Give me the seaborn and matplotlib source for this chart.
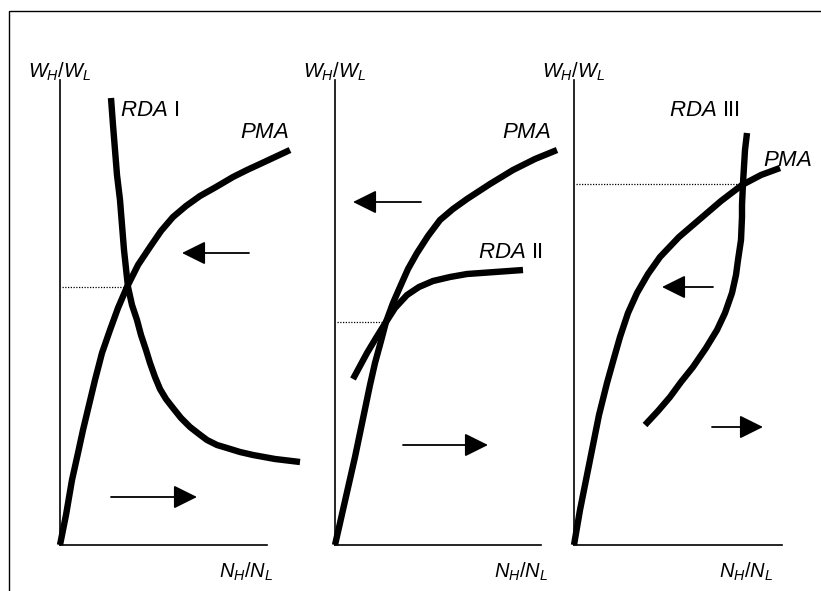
import matplotlib
matplotlib.use("Agg")
import matplotlib.pyplot as plt
from matplotlib.lines import Line2D
import seaborn as sns

# panel 1: PMA and RDA I
pma1_x = [0, 6, 12, 18, 23, 29, 35, 42, 50, 58, 67, 78, 90, 101, 113, 126, 140, 156, 173, 187, 200, 215, 230]
pma1_y = [0, 30, 65, 92, 115, 140, 165, 192, 215, 237, 258, 280, 298, 314, 328, 339, 349, 358, 368, 375, 381, 388, 395]
rda1_x = [51, 53, 55, 57, 60, 62, 64, 68, 72, 77, 81, 86, 90, 95, 100, 106, 113, 121, 130, 139, 147, 157, 167, 180, 193, 215, 240]
rda1_y = [447, 420, 395, 370, 345, 320, 295, 258, 240, 225, 210, 195, 182, 168, 156, 146, 137, 127, 118, 111, 105, 100, 97, 93, 90, 86, 83]
eq1 = (258, 65)

# panel 2: PMA and RDA II
pma2_x = [0, 5, 10, 15, 20, 25, 30, 35, 40, 46, 51, 58, 65, 73, 82, 93, 105, 118, 132, 155, 178, 200, 222]
pma2_y = [0, 22, 44, 66, 88, 112, 136, 160, 182, 204, 223, 242, 258, 276, 292, 309, 325, 336, 346, 361, 375, 386, 395]
rda2_x = [18, 25, 32, 41, 51, 60, 72, 84, 98, 115, 132, 160, 188]
rda2_y = [166, 179, 192, 207, 223, 237, 250, 258, 264, 268, 271, 273, 275]
eq2 = (223, 48)

# panel 3: PMA and RDA III
pma3_x = [0, 6, 11, 18, 25, 33, 40, 46, 54, 63, 74, 86, 105, 126, 147, 168, 187, 206]
pma3_y = [0, 35, 60, 95, 130, 162, 187, 208, 232, 252, 271, 288, 308, 326, 344, 360, 370, 377]
rda3_x = [173, 171, 169, 168, 168, 167, 164, 162, 158, 151, 143, 132, 119, 107, 96, 84, 71]
rda3_y = [412, 395, 362, 340, 328, 305, 285, 270, 252, 232, 215, 197, 178, 163, 148, 134, 120]
eq3 = (361, 166)

# arrows (tail -> tip)
arrows1 = [((189, 292), (122, 292)), ((51, 48), (137, 48))]
arrows2 = [((86, 343), (18, 343)), ((68, 100), (153, 100))]
arrows3 = [((139, 258), (88, 258)), ((138, 118), (189, 118))]

panels = [
    dict(left=60, xlen=207, pma=(pma1_x, pma1_y), rda=(rda1_x, rda1_y), eq=eq1,
         arrows=arrows1, rda_lab=(r"$RDA$ I", 60, 435), pma_lab=(180, 412), nlab_x=186),
    dict(left=335, xlen=206, pma=(pma2_x, pma2_y), rda=(rda2_x, rda2_y), eq=eq2,
         arrows=arrows2, rda_lab=(r"$RDA$ II", 143, 292), pma_lab=(167, 412), nlab_x=186),
    dict(left=574, xlen=208, pma=(pma3_x, pma3_y), rda=(rda3_x, rda3_y), eq=eq3,
         arrows=arrows3, rda_lab=(r"$RDA$ III", 95, 435), pma_lab=(189, 385), nlab_x=172),
]

sns.set_style("white")
plt.rcParams["font.family"] = ["Liberation Sans", "DejaVu Sans"]
plt.rcParams["text.color"] = "black"
plt.rcParams["mathtext.fontset"] = "custom"
plt.rcParams["mathtext.it"] = "Liberation Sans:italic"
plt.rcParams["mathtext.rm"] = "Liberation Sans"

W, H = 821, 591
fig = plt.figure(figsize=(W / 100, H / 100), dpi=100)
fig.patch.set_facecolor("white")

# frame (top and left only)
fig.add_artist(Line2D([10 / W, 1], [1 - 11 / H, 1 - 11 / H], transform=fig.transFigure, color="black", lw=1))
fig.add_artist(Line2D([9 / W, 9 / W], [0, 1 - 11 / H], transform=fig.transFigure, color="black", lw=1))

ylen = 465
for p in panels:
    ax = fig.add_axes([p["left"] / W, (H - 545) / H, p["xlen"] / W, ylen / H])
    ax.set_xlim(0, p["xlen"])
    ax.set_ylim(0, ylen)
    ax.patch.set_alpha(0)
    for s in ["top", "right"]:
        ax.spines[s].set_visible(False)
    for s in ["left", "bottom"]:
        ax.spines[s].set_linewidth(1.2)
        ax.spines[s].set_color("black")
    ax.set_xticks([])
    ax.set_yticks([])

    for xs, ys in [p["pma"], p["rda"]]:
        sns.lineplot(x=xs, y=ys, sort=False, estimator=None, color="black", lw=4.6,
                     ax=ax, clip_on=False, solid_capstyle="butt", solid_joinstyle="round")

    # equilibrium dotted line
    ey, ex = p["eq"]
    ax.plot([2, ex], [ey, ey], color="black", lw=0.9, ls=(0, (1, 1.2)))

    for tail, tip in p["arrows"]:
        ax.annotate("", xy=tip, xytext=tail,
                    arrowprops=dict(arrowstyle="-|>,head_length=1.45,head_width=0.72",
                                    color="black", lw=1.3, shrinkA=0, shrinkB=0))

    lab, lx, ly = p["rda_lab"]
    ax.text(lx, ly, lab, fontsize=16, ha="left", va="center", color="black")
    ax.text(p["pma_lab"][0], p["pma_lab"][1], r"$PMA$", fontsize=16, ha="left", va="center", color="black")
    ax.text(0, 473, r"$W_H/W_L$", fontsize=14.5, ha="center", va="center", clip_on=False, color="black")
    ax.text(p["nlab_x"], -27, r"$N_H/N_L$", fontsize=14.5, ha="center", va="center", clip_on=False, color="black")

fig.savefig("out.png", dpi=100, facecolor="white")
